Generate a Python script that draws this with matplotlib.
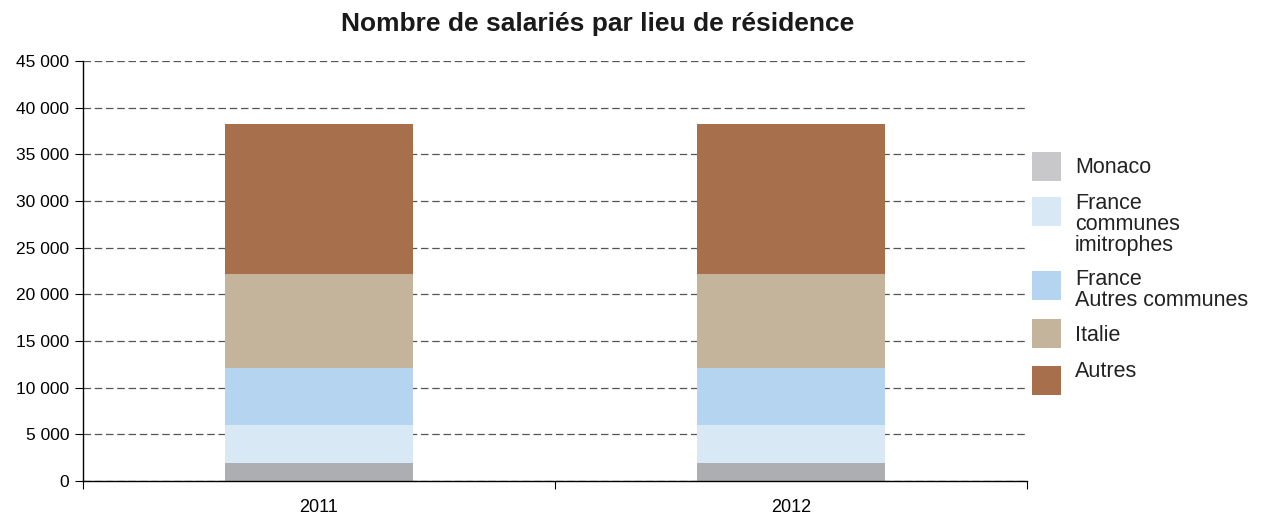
import matplotlib
matplotlib.use("Agg")
import matplotlib.pyplot as plt
from matplotlib.patches import Rectangle
from matplotlib.ticker import FuncFormatter, FixedLocator
import numpy as np

plt.rcParams["font.family"] = ["Liberation Sans", "DejaVu Sans"]

# data
years = ["2011", "2012"]
series = ["Monaco", "France\ncommunes\nimitrophes", "France\nAutres communes", "Italie", "Autres"]
monaco = [1960, 1970]
limitrophes = [4040, 4030]
autres_communes = [6080, 6090]
italie = [10070, 10060]
autres = [16070, 16090]

colors = ["#adaeb2", "#d8e8f5", "#b4d4ef", "#c4b49b", "#a86f4c"]
legend_colors = ["#c8c8ca", "#d8e8f5", "#b4d4ef", "#c4b49b", "#a86f4c"]

W, H = 1263, 515
fig = plt.figure(figsize=(W / 100, H / 100), dpi=100)
ax = fig.add_axes([83 / W, 1 - 481 / H, (1027 - 83) / W, (481 - 61) / H])

x = np.arange(len(years))
bottom = np.zeros(len(years))
for vals, c in zip([monaco, limitrophes, autres_communes, italie, autres], colors):
    ax.bar(x, vals, width=0.4, bottom=bottom, color=c, zorder=2)
    bottom += np.array(vals)

ax.set_xlim(-0.5, 1.5)
ax.set_ylim(0, 45000)
ax.set_yticks(np.arange(0, 45001, 5000))
ax.yaxis.set_major_formatter(FuncFormatter(lambda v, p: "{:,}".format(int(v)).replace(",", " ")))
ax.yaxis.grid(True, linestyle=(0, (6, 3)), color="#555555", linewidth=0.9, zorder=0)
ax.set_axisbelow(True)

ax.set_xticks(x)
ax.set_xticklabels(years)
ax.xaxis.set_minor_locator(FixedLocator([-0.5, 0.5, 1.5]))
ax.tick_params(axis="x", which="major", length=0, pad=13, labelsize=13)
ax.tick_params(axis="x", which="minor", length=6, width=0.8, direction="out")
ax.tick_params(axis="y", length=6, width=0.8, pad=4, labelsize=12.5)

for s in ["top", "right"]:
    ax.spines[s].set_visible(False)
for s in ["left", "bottom"]:
    ax.spines[s].set_linewidth(1.0)

fig.text(598 / W, 1 - 24 / H, "Nombre de salariés par lieu de résidence",
         ha="center", va="center", fontsize=19, fontweight="bold", color="#1a1a1a")

# legend drawn by hand to match layout
patch_tops = [152, 197, 271, 319, 366]
text_tops = [157, 193, 269, 325, 361]
for lab, c, pt, tt in zip(series, legend_colors, patch_tops, text_tops):
    fig.patches.append(Rectangle((1032 / W, 1 - (pt + 29) / H), 29 / W, 29 / H,
                                 transform=fig.transFigure, facecolor=c, edgecolor="none"))
    fig.text(1075 / W, 1 - tt / H, lab, ha="left", va="top", fontsize=15.5,
             linespacing=1.0, color="#222222")

fig.savefig("out.png", dpi=100)
